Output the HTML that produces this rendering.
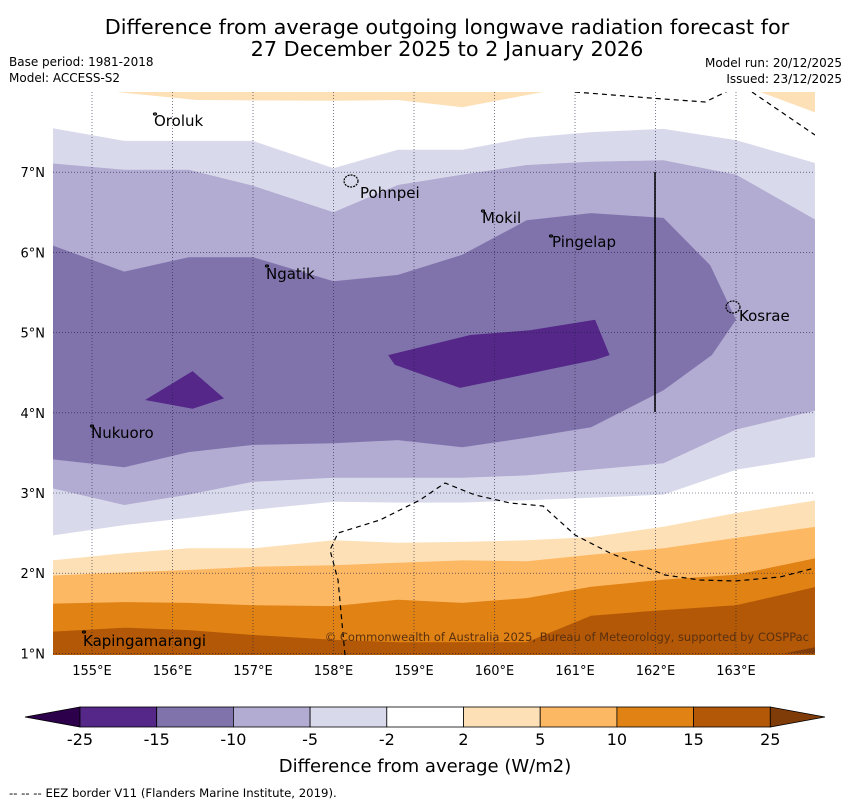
<!DOCTYPE html>
<html><head><meta charset="utf-8"><style>
body{margin:0;background:#fff;width:850px;height:804px;overflow:hidden;font-family:"Liberation Sans","DejaVu Sans",sans-serif}
svg{position:absolute;left:0;top:0}
</style></head><body>
<svg id="chart" width="850" height="804" font-family="DejaVu Sans, Liberation Sans, sans-serif">
<text x="447" y="34" font-size="20.8" text-anchor="middle">Difference from average outgoing longwave radiation forecast for</text>
<text x="447" y="56" font-size="20.8" text-anchor="middle">27 December 2025 to 2 January 2026</text>
<text x="9" y="66" font-size="12">Base period: 1981-2018</text>
<text x="9" y="82" font-size="12">Model: ACCESS-S2</text>
<text x="842" y="67" font-size="12" text-anchor="end">Model run: 20/12/2025</text>
<text x="842" y="83" font-size="12" text-anchor="end">Issued: 23/12/2025</text>
<defs><clipPath id="mapclip"><rect x="53" y="92" width="762" height="563"/></clipPath></defs>
<g id="map" clip-path="url(#mapclip)"></g>
<g id="axes"></g>
<g id="cbar"></g>
<text x="425" y="772" font-size="18" text-anchor="middle">Difference from average (W/m2)</text>
<text x="9" y="797" font-size="11.7">--  --  -- EEZ border V11 (Flanders Marine Institute, 2019).</text>
</svg>
<script>
const lons=[154.5,155.4,156.2,157.0,158.0,158.8,159.6,160.4,161.2,162.1,163.0,164.0];
const northM5=[7.55,7.39,7.39,7.39,7.05,7.28,7.28,7.43,7.50,7.54,7.40,7.11];
const northM10=[7.11,7.03,7.03,6.83,6.50,6.84,6.97,7.09,7.13,7.15,6.97,6.40];
const southM10=[3.06,2.85,2.98,3.14,3.19,3.19,3.19,3.22,3.29,3.37,3.79,4.03];
const southM5=[2.47,2.60,2.69,2.79,2.89,2.88,2.88,2.91,2.94,2.98,3.29,3.45];
const line2=[2.16,2.25,2.31,2.31,2.41,2.38,2.39,2.41,2.45,2.58,2.75,2.91];
const line5=[1.97,2.01,2.04,2.08,2.10,2.13,2.16,2.15,2.23,2.31,2.44,2.58];
const line10=[1.62,1.64,1.63,1.60,1.59,1.67,1.63,1.69,1.83,1.92,1.98,2.19];
const line15=[1.27,1.32,1.29,1.23,1.17,1.14,1.14,1.14,1.47,1.54,1.60,1.83];
const m15Lon=[154.5,155.4,156.2,157.0,158.0,158.8,159.6,160.4,161.2,162.1,162.68,163.0,162.7,162.1,161.2,160.4,159.6,158.8,158.0,157.0,156.2,155.4,154.5];
const m15Lat=[6.09,5.76,5.94,5.94,5.64,5.72,5.97,6.40,6.49,6.43,5.84,5.16,4.72,4.28,3.82,3.69,3.57,3.66,3.62,3.60,3.51,3.32,3.42];
const m25aLon=[155.66,156.25,156.64,156.25];
const m25aLat=[4.16,4.52,4.18,4.05];
const m25bLon=[158.68,159.70,160.44,161.25,161.43,161.25,159.57,158.76];
const m25bLat=[4.72,4.97,5.03,5.16,4.72,4.66,4.31,4.60];
const topOrLon=[155.3,156.3,158.0,158.8,159.6,160.6];
const topOrLat=[8.0,7.9,7.89,7.9,7.81,8.0];
const levels=['-25','-15','-10','-5','-2','2','5','10','15','25'];
const colors=['#542788','#8073ac','#b2abd2','#d8daeb','#ffffff','#fee0b6','#fdb863','#e08214','#b35806'];
const lonTicks=[155,156,157,158,159,160,161,162,163];
const latTicks=[1,2,3,4,5,6,7];

const X=lon=>92+(lon-155)*80.5;
const Y=lat=>92+(8-lat)*80.2;
const NS='http://www.w3.org/2000/svg';
function mk(tag,attrs,parent){const e=document.createElementNS(NS,tag);for(const k in attrs)e.setAttribute(k,attrs[k]);parent.appendChild(e);return e;}
const map=document.getElementById('map');
function pts(lo,la){return lo.map((l,i)=>X(l).toFixed(1)+','+Y(la[i]).toFixed(1)).join(' ');}
function band(upper,lower,col,name){
  const p=pts(lons,upper)+' '+pts(lons.slice().reverse(),lower.slice().reverse());
  const e=mk('polygon',{points:p,fill:col},map);
  
  
}
function below(line,col,name){
  const p=pts(lons,line)+' '+X(164)+','+Y(0.5)+' '+X(154.5)+','+Y(0.5);
  const e=mk('polygon',{points:p,fill:col},map);
  
  
}
function poly(lo,la,col,name){
  const e=mk('polygon',{points:pts(lo,la),fill:col},map);
  
  
}
band(northM5,southM5,colors[3],'band-minus5');
band(northM10,southM10,colors[2],'band-minus10');
poly(m15Lon,m15Lat,colors[1],'band-minus15');
poly(m25aLon,m25aLat,colors[0],'band-minus25-west');
poly(m25bLon,m25bLat,colors[0],'band-minus25-central');
below(line2,colors[5],'band-plus2');
below(line5,colors[6],'band-plus5');
below(line10,colors[7],'band-plus10');
below(line15,colors[8],'band-plus15');
poly(topOrLon,topOrLat,colors[5],'band-plus2-north');
poly([163.3,164.0,164.0],[8.0,8.0,7.74],colors[5],'band-plus2-northeast');
poly([163.6,164.0,164.0],[1.0,1.08,1.0],'#7f3b08','band-plus25');
// grid
lonTicks.forEach(l=>{const g=mk('line',{x1:X(l),x2:X(l),y1:92,y2:655,stroke:'#224',"stroke-width":0.6,"stroke-dasharray":'1,2'},map);

});
latTicks.forEach(l=>{const g=mk('line',{x1:53,x2:815,y1:Y(l),y2:Y(l),stroke:'#224',"stroke-width":0.6,"stroke-dasharray":'1,2'},map);

});
// dashed EEZ
const d1=mk('polyline',{points:'575,92 650,98 705,102 730,90',fill:'none',stroke:'#000','stroke-width':1.2,'stroke-dasharray':'5,4'},map);


const d2=mk('polyline',{points:'752,92 815,135',fill:'none',stroke:'#000','stroke-width':1.2,'stroke-dasharray':'5,4'},map);


const d3=mk('polyline',{points:'345,655 338,580 330,550 338,533 380,520 420,500 445,483 475,495 510,503 543,506 575,535 610,553 665,575 700,580 735,581 780,577 815,568',fill:'none',stroke:'#000','stroke-width':1.2,'stroke-dasharray':'5,4'},map);


const vl=mk('line',{x1:655,x2:655,y1:172,y2:412,stroke:'#000','stroke-width':1.5},map);


// islands
const isl=[[351,181,'Pohnpei',360,198],[483,211,'Mokil',482,223],[551,236,'Pingelap',552,247],[733,307,'Kosrae',739,321],[267,266,'Ngatik',266,279],[155,114,'Oroluk',154,126],[92,426,'Nukuoro',91,438],[84,632,'Kapingamarangi',83,646]];
isl.forEach(a=>{
  const big=a[2]==='Pohnpei'||a[2]==='Kosrae';
  const c=mk('ellipse',{cx:a[0],cy:a[1],rx:big?7:1.5,ry:big?6:1,fill:'none',stroke:'#000','stroke-width':1.2,'stroke-dasharray':big?'2,1':'none'},map);
  
  
  const t=mk('text',{x:a[3],y:a[4],'font-size':15},map);t.textContent=a[2];
  
  
});
const cp=mk('text',{x:809,y:641,'font-size':11.5,'text-anchor':'end',fill:'#5a3010'},map);
cp.textContent='© Commonwealth of Australia 2025, Bureau of Meteorology, supported by COSPPac';


// axes labels
const ax=document.getElementById('axes');
lonTicks.forEach(l=>{const t=mk('text',{x:X(l),y:675,'font-size':13,'text-anchor':'middle'},ax);t.textContent=l+'°E';

});
latTicks.forEach(l=>{const t=mk('text',{x:45,y:Y(l)+5,'font-size':13,'text-anchor':'end'},ax);t.textContent=l+'°N';

});
// colorbar
const cb=document.getElementById('cbar');
const cx0=80,cw=76.7,cy=707,ch=20;
const lt=mk('polygon',{points:`${cx0},${cy} 25,${cy+ch/2} ${cx0},${cy+ch}`,fill:'#2d004b',stroke:'#000','stroke-width':0.8},cb);


colors.forEach((c,i)=>{const r=mk('rect',{x:cx0+i*cw,y:cy,width:cw,height:ch,fill:c,stroke:'#000','stroke-width':0.8},cb);

});
const rt=mk('polygon',{points:`${cx0+9*cw},${cy} 825,${cy+ch/2} ${cx0+9*cw},${cy+ch}`,fill:'#7f3b08',stroke:'#000','stroke-width':0.8},cb);


levels.forEach((l,i)=>{const t=mk('text',{x:cx0+i*cw,y:745,'font-size':16,'text-anchor':'middle'},cb);t.textContent=l;

});
</script>
</body></html>
